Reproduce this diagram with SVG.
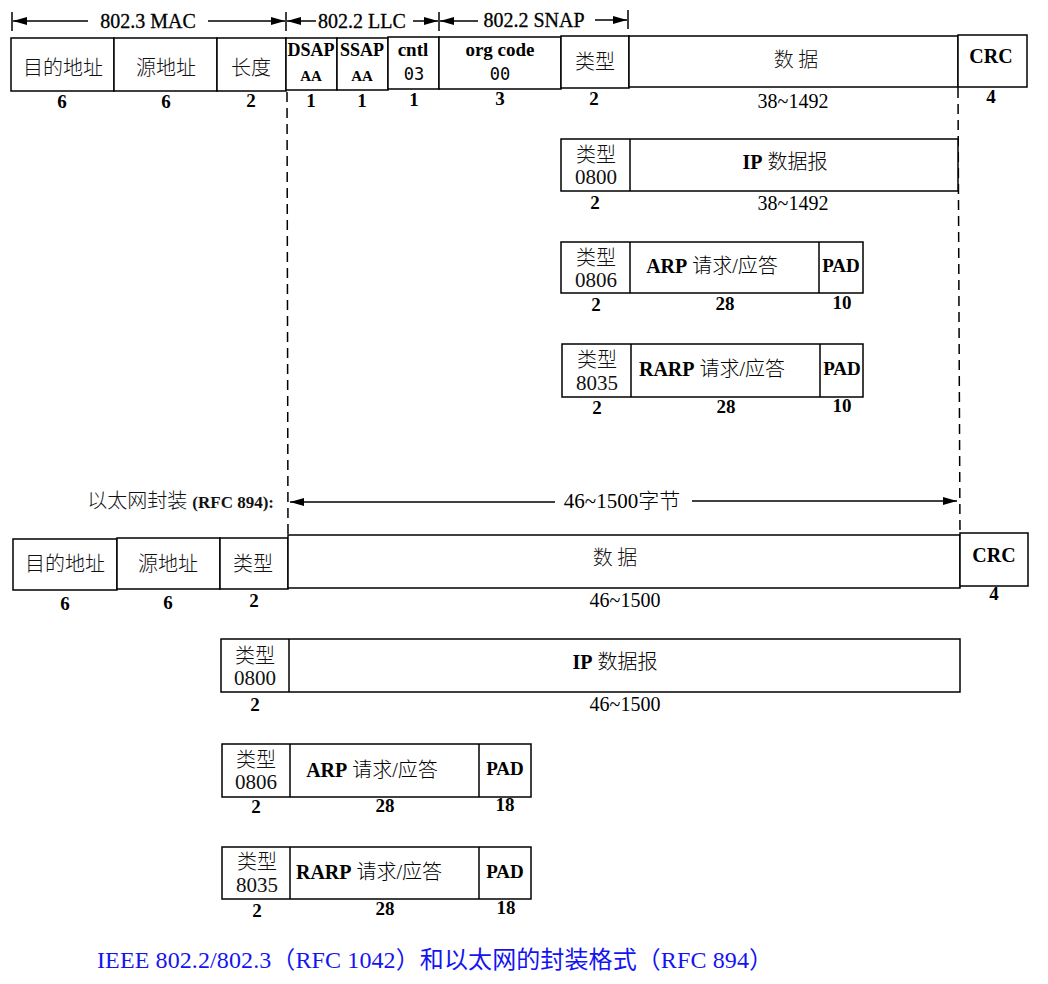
<svg xmlns="http://www.w3.org/2000/svg" width="1048" height="984" viewBox="0 0 1048 984">
<defs>
<marker id="ah" viewBox="0 0 14 8" markerWidth="14" markerHeight="8" refX="14" refY="4" orient="auto-start-reverse" markerUnits="userSpaceOnUse"><path d="M0,0 L14,4 L0,8 z" fill="#000"/></marker>
<style>
.bx{fill:#fff;stroke:#000;stroke-width:1.5}
.ln{stroke:#000;stroke-width:1.5;fill:none}
.dash{stroke:#000;stroke-width:1.5;stroke-dasharray:10 6;fill:none}
.cn{font-family:"Noto Sans CJK SC",sans-serif;font-size:20px;font-weight:300;fill:#111;text-anchor:middle}
.tp{font-family:"Liberation Serif","Noto Sans CJK SC",serif;font-size:20px;font-weight:300;fill:#111;text-anchor:middle}
.n21{font-size:21px}
.en{font-family:"Liberation Serif",serif;font-weight:bold;font-size:19px;fill:#000;text-anchor:middle}
.crc{font-family:"Liberation Serif",serif;font-weight:bold;font-size:20px;fill:#000;text-anchor:middle}
.ds{font-family:"Liberation Serif",serif;font-weight:bold;font-size:18px;fill:#000;text-anchor:middle}
.lb{font-family:"Liberation Serif","Noto Sans CJK SC",serif;font-size:20px;font-weight:300;fill:#000;text-anchor:middle}
.nm{font-family:"Liberation Serif",serif;font-weight:bold;font-size:19px;fill:#000;text-anchor:middle}
.mono{font-family:"DejaVu Sans Mono",monospace;font-size:17px;fill:#000;text-anchor:middle}
.sm{font-family:"Liberation Serif",serif;font-weight:bold;font-size:15px;fill:#000;text-anchor:middle}
.dim{font-family:"Liberation Serif",serif;font-size:20px;fill:#000;text-anchor:middle;stroke:#000;stroke-width:0.3}
.val{font-family:"Liberation Serif",serif;font-size:20px;fill:#000;text-anchor:middle}
.mid{font-family:"Liberation Serif","Noto Sans CJK SC",serif;font-size:21px;font-weight:300;fill:#000;text-anchor:middle}
.rfc{font-family:"Liberation Serif","Noto Sans CJK SC",serif;font-size:20px;font-weight:300;fill:#111;text-anchor:end}
.cap{font-family:"Liberation Serif","Noto Sans CJK SC",serif;font-size:24px;fill:#1414f0}
.b{font-family:"Liberation Serif",serif;font-weight:bold}
.b17{font-family:"Liberation Serif",serif;font-weight:bold;font-size:17px}
</style>
</defs>

<g id="connectors">
  <line class="ln" x1="12" y1="12" x2="12" y2="31"/>
  <line class="ln" x1="286" y1="12" x2="286" y2="31"/>
  <line class="ln" x1="439" y1="12" x2="439" y2="31"/>
  <line class="ln" x1="628" y1="10" x2="628" y2="29"/>
  <line class="ln" x1="88" y1="21" x2="13" y2="21" marker-end="url(#ah)"/>
  <line class="ln" x1="208" y1="21" x2="285" y2="21" marker-end="url(#ah)"/>
  <line class="ln" x1="316" y1="21" x2="287" y2="21" marker-end="url(#ah)"/>
  <line class="ln" x1="413" y1="21" x2="438" y2="21" marker-end="url(#ah)"/>
  <line class="ln" x1="478" y1="21" x2="440" y2="21" marker-end="url(#ah)"/>
  <line class="ln" x1="595" y1="20" x2="627" y2="20" marker-end="url(#ah)"/>
  <line class="dash" x1="287" y1="92" x2="288" y2="537"/>
  <line class="dash" x1="958" y1="88" x2="960" y2="537"/>
  <line class="ln" x1="555" y1="502" x2="290" y2="502" marker-end="url(#ah)"/>
  <line class="ln" x1="692" y1="501" x2="957" y2="501" marker-end="url(#ah)"/>
</g>

<g id="labels-top">
  <text class="dim" x="148" y="28">802.3 MAC</text>
  <text class="dim" x="362" y="28">802.2 LLC</text>
  <text class="dim" x="534" y="27">802.2 SNAP</text>
</g>

<g id="f1-dst"><rect class="bx" x="11" y="38" width="103" height="53"/><text class="cn" x="63" y="75">目的地址</text><text class="nm" x="62" y="108">6</text></g>
<g id="f1-src"><rect class="bx" x="114" y="38" width="103" height="53"/><text class="cn" x="166" y="75">源地址</text><text class="nm" x="166" y="108">6</text></g>
<g id="f1-len"><rect class="bx" x="217" y="38" width="69" height="53"/><text class="cn" x="251" y="75">长度</text><text class="nm" x="251" y="107">2</text></g>
<g id="f1-dsap"><rect class="bx" x="286" y="38" width="51" height="52"/><text class="ds" x="311" y="56">DSAP</text><text class="sm" x="311" y="81">AA</text><text class="nm" x="311" y="107">1</text></g>
<g id="f1-ssap"><rect class="bx" x="337" y="38" width="51" height="52"/><text class="ds" x="362" y="56">SSAP</text><text class="sm" x="362" y="81">AA</text><text class="nm" x="362" y="107">1</text></g>
<g id="f1-cntl"><rect class="bx" x="388" y="37" width="51" height="52"/><text class="en" x="413" y="56">cntl</text><text class="mono" x="414" y="80">03</text><text class="nm" x="414" y="106">1</text></g>
<g id="f1-org"><rect class="bx" x="439" y="37" width="122" height="52"/><text class="en" x="500" y="56">org code</text><text class="mono" x="500" y="80">00</text><text class="nm" x="500" y="105">3</text></g>
<g id="f1-type"><rect class="bx" x="561" y="36" width="68" height="52"/><text class="cn" x="595" y="69">类型</text><text class="nm" x="594" y="105">2</text></g>
<g id="f1-data"><rect class="bx" x="629" y="36" width="329" height="51"/><text class="cn" x="796" y="67">数 据</text><text class="val" x="793" y="108">38~1492</text></g>
<g id="f1-crc"><rect class="bx" x="958" y="35" width="69" height="52"/><text class="crc" x="991" y="63">CRC</text><text class="nm" x="991" y="103">4</text></g>

<g id="p1-ip"><rect class="bx" x="561" y="139" width="397" height="52"/><line class="ln" x1="630" y1="139" x2="630" y2="191"/><text class="tp" x="596" y="162">类型<tspan class="n21" x="596" dy="22">0800</tspan></text><text class="lb" x="785" y="169"><tspan class="b">IP</tspan> 数据报</text><text class="nm" x="595" y="209">2</text><text class="val" x="793" y="210">38~1492</text></g>
<g id="p1-arp"><rect class="bx" x="561" y="242" width="302" height="51"/><line class="ln" x1="630" y1="242" x2="630" y2="293"/><line class="ln" x1="819" y1="242" x2="819" y2="293"/><text class="tp" x="596" y="265">类型<tspan class="n21" x="596" dy="22">0806</tspan></text><text class="lb" x="712" y="273"><tspan class="b">ARP</tspan> 请求/应答</text><text class="en" x="841" y="272">PAD</text><text class="nm" x="596" y="311">2</text><text class="nm" x="725" y="310">28</text><text class="nm" x="842" y="309">10</text></g>
<g id="p1-rarp"><rect class="bx" x="562" y="344" width="301" height="53"/><line class="ln" x1="631" y1="344" x2="631" y2="397"/><line class="ln" x1="820" y1="344" x2="820" y2="397"/><text class="tp" x="597" y="367">类型<tspan class="n21" x="597" dy="23">8035</tspan></text><text class="lb" x="712" y="376"><tspan class="b">RARP</tspan> 请求/应答</text><text class="en" x="842" y="375">PAD</text><text class="nm" x="597" y="414">2</text><text class="nm" x="726" y="413">28</text><text class="nm" x="842" y="412">10</text></g>

<g id="label-894">
  <text class="rfc" x="274" y="508">以太网封装 <tspan class="b17">(RFC 894):</tspan></text>
  <text class="mid" x="622" y="508">46~1500字节</text>
</g>

<g id="f2-dst"><rect class="bx" x="13" y="539" width="104" height="51"/><text class="cn" x="65" y="571">目的地址</text><text class="nm" x="65" y="610">6</text></g>
<g id="f2-src"><rect class="bx" x="117" y="538" width="103" height="51"/><text class="cn" x="168" y="571">源地址</text><text class="nm" x="168" y="609">6</text></g>
<g id="f2-type"><rect class="bx" x="220" y="538" width="68" height="51"/><text class="cn" x="253" y="571">类型</text><text class="nm" x="254" y="607">2</text></g>
<g id="f2-data"><rect class="bx" x="288" y="535" width="672" height="53"/><text class="cn" x="615" y="565">数 据</text><text class="val" x="625" y="607">46~1500</text></g>
<g id="f2-crc"><rect class="bx" x="960" y="533" width="68" height="53"/><text class="crc" x="994" y="562">CRC</text><text class="nm" x="994" y="600">4</text></g>

<g id="p2-ip"><rect class="bx" x="221" y="639" width="739" height="53"/><line class="ln" x1="289" y1="639" x2="289" y2="692"/><text class="tp" x="255" y="663">类型<tspan class="n21" x="255" dy="22">0800</tspan></text><text class="lb" x="615" y="669"><tspan class="b">IP</tspan> 数据报</text><text class="nm" x="255" y="711">2</text><text class="val" x="625" y="711">46~1500</text></g>
<g id="p2-arp"><rect class="bx" x="222" y="744" width="309" height="53"/><line class="ln" x1="290" y1="744" x2="290" y2="797"/><line class="ln" x1="479" y1="744" x2="479" y2="797"/><text class="tp" x="256" y="767">类型<tspan class="n21" x="256" dy="22">0806</tspan></text><text class="lb" x="372" y="777"><tspan class="b">ARP</tspan> 请求/应答</text><text class="en" x="505" y="775">PAD</text><text class="nm" x="256" y="813">2</text><text class="nm" x="385" y="812">28</text><text class="nm" x="505" y="811">18</text></g>
<g id="p2-rarp"><rect class="bx" x="222" y="847" width="309" height="52"/><line class="ln" x1="290" y1="847" x2="290" y2="899"/><line class="ln" x1="479" y1="847" x2="479" y2="899"/><text class="tp" x="257" y="869">类型<tspan class="n21" x="257" dy="23">8035</tspan></text><text class="lb" x="369" y="879"><tspan class="b">RARP</tspan> 请求/应答</text><text class="en" x="505" y="878">PAD</text><text class="nm" x="257" y="917">2</text><text class="nm" x="385" y="915">28</text><text class="nm" x="506" y="914">18</text></g>

<g id="caption"><text class="cap" x="97" y="968" textLength="676" lengthAdjust="spacing">IEEE 802.2/802.3（RFC 1042）和以太网的封装格式（RFC 894）</text></g>
</svg>
